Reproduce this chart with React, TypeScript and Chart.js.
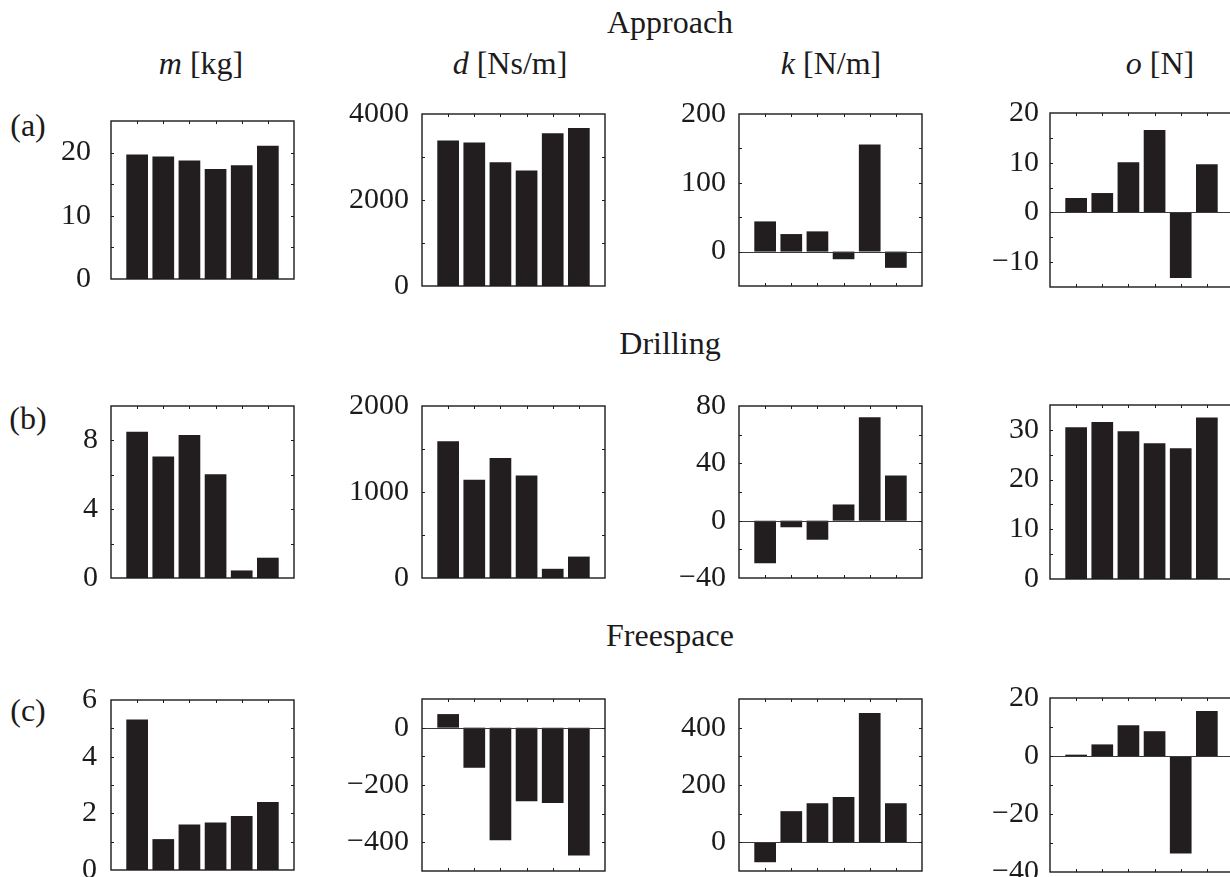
import React, { useEffect, useRef } from "react";
import { Chart, registerables } from "chart.js";

Chart.register(...registerables);

// Trial index along each panel's horizontal axis
const trials = [1, 2, 3, 4, 5, 6];

// Approach phase: identified mass, damping, stiffness and force offset
const approachMass = [19.7, 19.4, 18.75, 17.4, 18.0, 21.1];
const approachDamping = [3385, 3338, 2877, 2685, 3554, 3677];
const approachStiffness = [43.9, 25.5, 29.4, -11.1, 155.7, -23.6];
const approachOffset = [2.9, 3.9, 10.1, 16.6, -13.2, 9.7];

// Drilling phase
const drillingMass = [8.5, 7.07, 8.31, 6.03, 0.44, 1.18];
const drillingDamping = [1590, 1142, 1395, 1192, 107, 249];
const drillingStiffness = [-29.7, -4.6, -13.3, 11.3, 72.2, 31.5];
const drillingOffset = [30.5, 31.6, 29.7, 27.3, 26.3, 32.5];

// Freespace phase
const freespaceMass = [5.31, 1.09, 1.61, 1.68, 1.91, 2.4];
const freespaceDamping = [47.4, -139.9, -393, -256.6, -262.4, -446];
const freespaceStiffness = [-69.4, 108.7, 136.4, 158.4, 450.9, 136.4];
const freespaceOffset = [0.46, 4.0, 10.6, 8.55, -33.6, 15.5];

// Y-axis ranges: [min, max, tick step, labelled step]
const approachMassAxis = [0, 25, 5, 10];
const approachDampingAxis = [0, 4000, 1000, 2000];
const approachStiffnessAxis = [-50, 200, 50, 100];
const approachOffsetAxis = [-15, 20, 5, 10];
const drillingMassAxis = [0, 10, 2, 4];
const drillingDampingAxis = [0, 2000, 500, 1000];
const drillingStiffnessAxis = [-40, 80, 20, 40];
const drillingOffsetAxis = [0, 35, 5, 10];
const freespaceMassAxis = [0, 6, 1, 2];
const freespaceDampingAxis = [-500, 100, 100, 200];
const freespaceStiffnessAxis = [-100, 500, 100, 200];
const freespaceOffsetAxis = [-40, 20, 10, 20];

const phaseTitles = ["Approach", "Drilling", "Freespace"];
const rowTags = ["(a)", "(b)", "(c)"];
const paramSymbols = ["m", "d", "k", "o"];
const paramUnits = ["[kg]", "[Ns/m]", "[N/m]", "[N]"];

const FONT = "'Liberation Serif', 'Times New Roman', serif";
const INK = "#1c1a1b";
const BAR = "#221e1f";

const colLeft = [111, 422, 739, 1050];
const rowTop = [113, 405, 698];
const BOX_W = 183;
const BOX_H = 174;
const AXIS_W = 110;
const PAD_T = 30;
const PAD_B = 30;
const PAD_R = 12;

const grid = [
  [
    { values: approachMass, axis: approachMassAxis, gap: 20 },
    { values: approachDamping, axis: approachDampingAxis, gap: 13 },
    { values: approachStiffness, axis: approachStiffnessAxis, gap: 13 },
    { values: approachOffset, axis: approachOffsetAxis, gap: 11 },
  ],
  [
    { values: drillingMass, axis: drillingMassAxis, gap: 13 },
    { values: drillingDamping, axis: drillingDampingAxis, gap: 13 },
    { values: drillingStiffness, axis: drillingStiffnessAxis, gap: 13 },
    { values: drillingOffset, axis: drillingOffsetAxis, gap: 11 },
  ],
  [
    { values: freespaceMass, axis: freespaceMassAxis, gap: 14 },
    { values: freespaceDamping, axis: freespaceDampingAxis, gap: 13 },
    { values: freespaceStiffness, axis: freespaceStiffnessAxis, gap: 13 },
    { values: freespaceOffset, axis: freespaceOffsetAxis, gap: 11 },
  ],
];

// Box frame, zero line and inward tick marks
const framePlugin = {
  id: "frame",
  afterDatasetsDraw(chart: any) {
    const { ctx, chartArea } = chart;
    const { left, right, top, bottom } = chartArea;
    const x = chart.scales.x;
    const y = chart.scales.y;
    ctx.save();
    if (y.min < 0 && y.max > 0) {
      const y0 = Math.round(y.getPixelForValue(0)) + 0.5;
      ctx.strokeStyle = "#3a3a3a";
      ctx.lineWidth = 1;
      ctx.beginPath();
      ctx.moveTo(left, y0);
      ctx.lineTo(right, y0);
      ctx.stroke();
    }
    ctx.strokeStyle = INK;
    ctx.lineWidth = 1;
    ctx.beginPath();
    const len = 3;
    for (const t of y.ticks) {
      if (t.value <= y.min || t.value >= y.max) continue;
      const py = Math.round(y.getPixelForValue(t.value)) + 0.5;
      ctx.moveTo(left, py);
      ctx.lineTo(left + len, py);
      ctx.moveTo(right, py);
      ctx.lineTo(right - len, py);
    }
    for (const v of trials) {
      const px = Math.round(x.getPixelForValue(v)) + 0.5;
      ctx.moveTo(px, top);
      ctx.lineTo(px, top + len);
      ctx.moveTo(px, bottom);
      ctx.lineTo(px, bottom - len);
    }
    ctx.stroke();
    ctx.lineWidth = 1.4;
    ctx.strokeRect(left, top, right - left, bottom - top);
    ctx.restore();
  },
};

function fmt(v: number) {
  return v < 0 ? "\u2212" + Math.abs(v) : String(v);
}

function Panel({ values, axis, gap, left, top }: any) {
  const ref = useRef<HTMLCanvasElement | null>(null);
  useEffect(() => {
    if (!ref.current) return;
    const [min, max, step, labelStep] = axis;
    const chart = new Chart(ref.current, {
      type: "bar",
      data: {
        datasets: [
          {
            data: trials.map((t, i) => ({ x: t, y: values[i] })),
            backgroundColor: BAR,
            borderWidth: 0,
            barPercentage: 0.83,
            categoryPercentage: 1,
          },
        ],
      },
      options: {
        animation: false,
        responsive: false,
        maintainAspectRatio: false,
        layout: { padding: { left: 0, right: PAD_R, top: PAD_T, bottom: PAD_B } },
        plugins: { legend: { display: false }, tooltip: { enabled: false }, title: { display: false } },
        scales: {
          x: { type: "linear", min: 0, max: 7, offset: false, display: false },
          y: {
            min,
            max,
            grid: { display: false, drawTicks: false },
            border: { display: false },
            afterFit(scale: any) {
              scale.width = AXIS_W;
            },
            ticks: {
              stepSize: step,
              autoSkip: false,
              padding: gap,
              color: INK,
              font: { family: FONT, size: 30 },
              callback: (v: any) => {
                const n = Number(v);
                const r = Math.abs(n / labelStep - Math.round(n / labelStep));
                return r < 1e-9 ? fmt(n) : "";
              },
            },
          },
        },
      },
      plugins: [framePlugin],
    });
    return () => chart.destroy();
  }, [values, axis, gap]);
  const w = AXIS_W + BOX_W + PAD_R;
  const h = PAD_T + BOX_H + PAD_B;
  return (
    <canvas
      ref={ref}
      width={w}
      height={h}
      style={{ position: "absolute", left: left - AXIS_W, top: top - PAD_T, width: w, height: h }}
    />
  );
}

function Label({ text, cx, top, children }: any) {
  return (
    <div
      style={{
        position: "absolute",
        left: cx,
        top,
        transform: "translateX(-50%)",
        fontFamily: FONT,
        fontSize: 32,
        lineHeight: "32px",
        color: INK,
        whiteSpace: "nowrap",
      }}
    >
      {children ?? text}
    </div>
  );
}

const headerCenters = [201, 510, 831, 1160];
const phaseTops = [6, 327, 619];
const tagTops = [109, 402, 694];

export default function App() {
  return (
    <div
      style={{
        position: "absolute",
        left: 0,
        top: 0,
        width: 1230,
        height: 877,
        overflow: "hidden",
        background: "#fff",
      }}
    >
      {phaseTitles.map((t, r) => (
        <Label key={"p" + r} text={t} cx={670} top={phaseTops[r]} />
      ))}
      {rowTags.map((t, r) => (
        <Label key={"t" + r} text={t} cx={28} top={tagTops[r]} />
      ))}
      {paramSymbols.map((s, c) => (
        <Label key={"h" + c} cx={headerCenters[c]} top={47}>
          <i>{s}</i> {paramUnits[c]}
        </Label>
      ))}
      {grid.map((row, r) =>
        row.map((p, c) => (
          <Panel
            key={r + "-" + c}
            values={p.values}
            axis={p.axis}
            gap={p.gap}
            left={colLeft[c]}
            top={rowTop[r]}
          />
        ))
      )}
    </div>
  );
}
